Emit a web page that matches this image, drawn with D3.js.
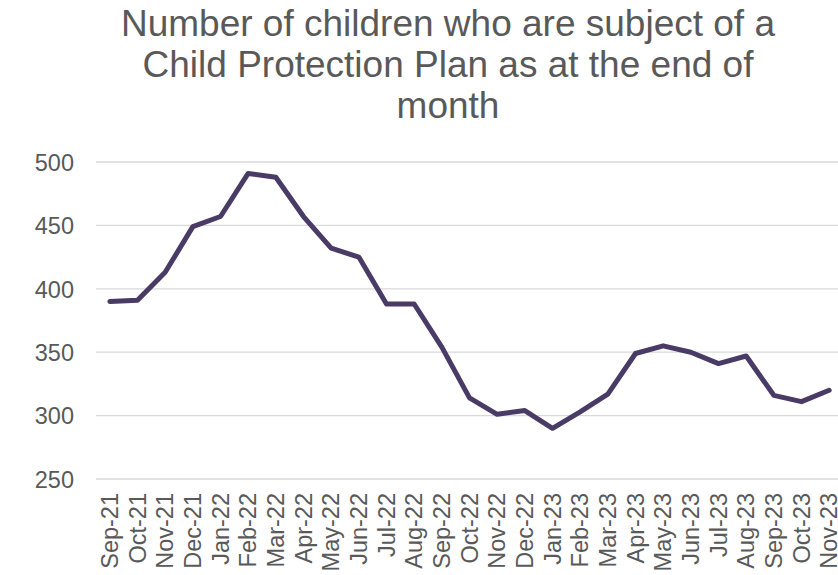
<!DOCTYPE html>
<html>
<head>
<meta charset="utf-8">
<script src="https://cdn.jsdelivr.net/npm/d3@7"></script>
<style>
  html, body { margin: 0; padding: 0; background: #fff; }
  svg { display: block; font-family: "Liberation Sans", Arial, sans-serif; }
</style>
</head>
<body>
<svg id="chart" width="838" height="575"></svg>
<script>
const months = ["Sep-21","Oct-21","Nov-21","Dec-21","Jan-22","Feb-22","Mar-22","Apr-22","May-22","Jun-22","Jul-22","Aug-22","Sep-22","Oct-22","Nov-22","Dec-22","Jan-23","Feb-23","Mar-23","Apr-23","May-23","Jun-23","Jul-23","Aug-23","Sep-23","Oct-23","Nov-23"];
const values = [390,391,413,449,457,491,488,457,432,425,388,388,354,314,301,304,290,303,317,349,355,350,341,347,316,311,320];
const yTicks = [250,300,350,400,450,500];
const titleLines = ["Number of children who are subject of a","Child Protection Plan as at the end of","month"];

const svg = d3.select("#chart");
const mLeft = 96, mRight = 843, mTop = 162, mBottom = 479;

const x = d3.scaleBand().domain(months).range([mLeft, mRight]);
const y = d3.scaleLinear().domain([250, 500]).range([mBottom, mTop]);

// title
svg.append("g").selectAll("text").data(titleLines).join("text")
  .attr("x", 448).attr("y", (d, i) => 36 + i * 41)
  .attr("text-anchor", "middle")
  .attr("font-size", 37).attr("fill", "#595959")
  .text(d => d);

// grid lines
svg.append("g").selectAll("line").data(yTicks).join("line")
  .attr("x1", mLeft).attr("x2", 838)
  .attr("y1", d => y(d)).attr("y2", d => y(d))
  .attr("stroke", "#d9d9d9").attr("stroke-width", 1.3);

// y axis labels
const yAxis = d3.axisLeft(y).tickValues(yTicks).tickSize(0).tickPadding(22);
const gy = svg.append("g").attr("transform", `translate(${mLeft},0)`).call(yAxis);
gy.select(".domain").remove();
gy.selectAll("text").attr("font-size", 23.5).attr("fill", "#595959")
  .attr("font-family", "Liberation Sans, Arial, sans-serif").attr("dy", "0.35em");

// x axis labels
const xAxis = d3.axisBottom(x).tickSize(0).tickPadding(0);
const gx = svg.append("g").attr("transform", `translate(0,${mBottom})`).call(xAxis);
gx.select(".domain").remove();
gx.selectAll("text")
  .attr("font-size", 23.5).attr("fill", "#595959")
  .attr("font-family", "Liberation Sans, Arial, sans-serif")
  .attr("text-anchor", "end")
  .attr("transform", "translate(0,14) rotate(-90)")
  .attr("x", 0).attr("y", 0).attr("dy", "0.35em");

// line
const line = d3.line()
  .x((d, i) => x(months[i]) + x.bandwidth() / 2)
  .y(d => y(d));
svg.append("path").datum(values)
  .attr("d", line)
  .attr("fill", "none")
  .attr("stroke", "#4a3b66")
  .attr("stroke-width", 5)
  .attr("stroke-linejoin", "round")
  .attr("stroke-linecap", "round");
</script>
</body>
</html>
